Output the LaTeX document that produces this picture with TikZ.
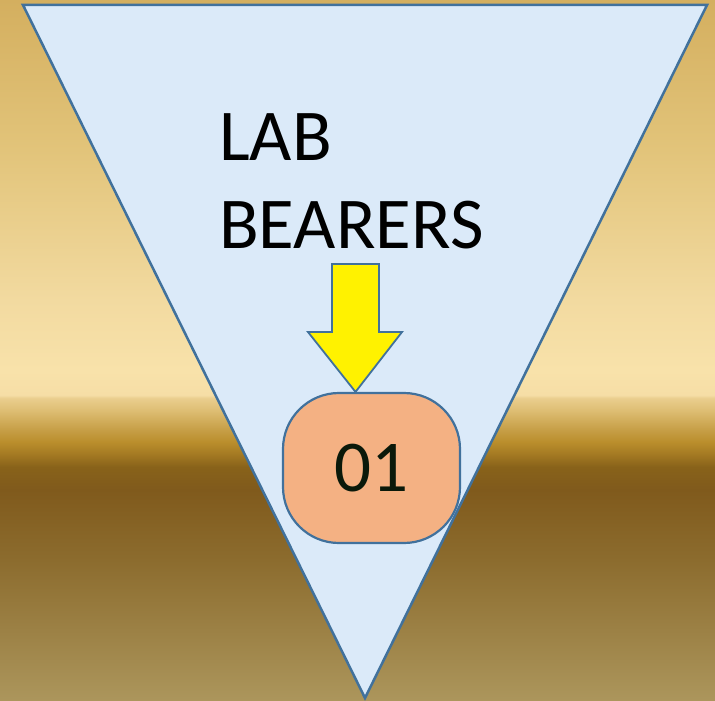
\documentclass[tikz,border=0pt]{standalone}
\usepackage{fontspec}
\setmainfont{Carlito}
\definecolor{sandtop}{RGB}{212,175,95}
\definecolor{sandmid}{RGB}{226,196,122}
\definecolor{sandpale}{RGB}{242,218,160}
\definecolor{sandlight}{RGB}{248,226,170}
\definecolor{bandA}{RGB}{246,222,166}
\definecolor{bandB}{RGB}{234,206,142}
\definecolor{bandC}{RGB}{222,190,116}
\definecolor{bandD}{RGB}{210,174,92}
\definecolor{bandE}{RGB}{198,158,70}
\definecolor{bandF}{RGB}{186,142,44}
\definecolor{bandG}{RGB}{162,120,34}
\definecolor{earthdark}{RGB}{136,98,26}
\definecolor{earthdeep}{RGB}{128,90,28}
\definecolor{earthmid}{RGB}{140,108,46}
\definecolor{earthlow}{RGB}{172,150,92}
\definecolor{edgeblue}{RGB}{65,113,156}
\definecolor{funnelblue}{RGB}{219,234,249}
\definecolor{boxorange}{RGB}{244,177,131}
\definecolor{digitink}{RGB}{10,25,10}
\pgfdeclareverticalshading{landshade}{100bp}{color(0bp)=(earthlow); color(25bp)=(earthlow);
  color(35.06bp)=(earthmid); color(40.05bp)=(earthdeep); color(41.69bp)=(earthdark);
  color(42.54bp)=(bandG); color(43.47bp)=(bandF); color(44.33bp)=(bandE);
  color(45.04bp)=(bandD); color(45.75bp)=(bandC); color(46.61bp)=(bandB);
  color(46.82bp)=(bandA); color(48.61bp)=(sandlight); color(53.6bp)=(sandpale);
  color(64.3bp)=(sandmid); color(75bp)=(sandtop); color(100bp)=(sandtop)}
\tikzset{
  funnel/.style={draw=edgeblue, line width=2.5pt, fill=funnelblue, line join=miter},
  labeltext/.style={font=\fontsize{73}{88}\selectfont, align=left, inner sep=0pt},
  stagebox/.style={draw=edgeblue, line width=2.2pt, fill=boxorange, rounded corners=56pt,
    minimum width=177pt, minimum height=150pt, inner sep=0pt,
    font=\fontsize{73}{86}\selectfont, text=digitink},
  downarrow/.style={draw=edgeblue, line width=1.8pt, fill=yellow, line join=miter}
}
\begin{document}
\begin{tikzpicture}[x=1pt, y=-1pt]
\useasboundingbox (0,0) rectangle (715,701);
\shade[shading=landshade] (0,0) rectangle (715,701);
% funnel
\draw[funnel] (23,5) -- (707,5) -- (365,698) -- cycle;
% label and stage
\node[labeltext, anchor=base west] (label) at (219,248) {LAB\\BEARERS};
\node[stagebox] (stage) at (371.5,468) {01};
% arrow from label to stage
\draw[downarrow] (332,264) -- (379,264) -- (379,332) -- (402,332) -- (stage.north -| 355.5,0)
  -- (308,332) -- (332,332) -- cycle;
\end{tikzpicture}
\end{document}
